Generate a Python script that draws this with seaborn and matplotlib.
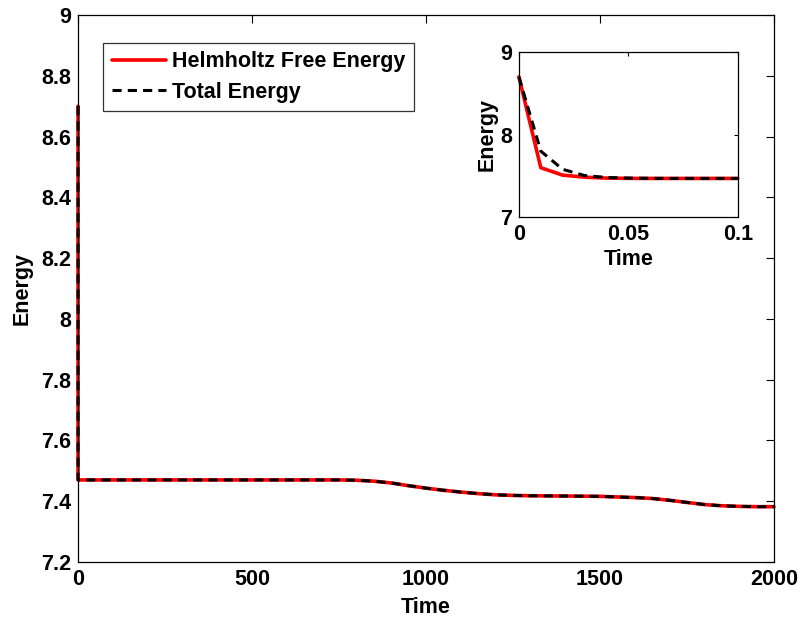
import matplotlib
matplotlib.use("Agg")
import matplotlib.pyplot as plt
import seaborn as sns
import pandas as pd
from matplotlib.ticker import FuncFormatter

# ---- data ----
t_early = [0, 0.01, 0.02, 0.03, 0.04, 0.05, 0.06, 0.07, 0.08, 0.09, 0.1]
helm_early = [8.70, 7.60, 7.51, 7.485, 7.474, 7.471, 7.470, 7.470, 7.470, 7.470, 7.470]
total_early = [8.70, 7.80, 7.58, 7.505, 7.482, 7.474, 7.471, 7.470, 7.470, 7.470, 7.470]

t_long = [100, 200, 300, 400, 500, 600, 700, 750, 800, 850, 900, 950, 1000, 1050,
          1100, 1150, 1200, 1250, 1300, 1400, 1500, 1550, 1600, 1650, 1700, 1750,
          1800, 1850, 1900, 1950, 2000]
energy_long = [7.470, 7.470, 7.470, 7.470, 7.470, 7.470, 7.470, 7.470, 7.469, 7.466,
               7.460, 7.451, 7.443, 7.436, 7.430, 7.425, 7.421, 7.419, 7.418, 7.417,
               7.416, 7.414, 7.412, 7.409, 7.403, 7.396, 7.389, 7.385, 7.383, 7.382, 7.382]

main_xticks = [0, 500, 1000, 1500, 2000]
main_yticks = [7.2, 7.4, 7.6, 7.8, 8.0, 8.2, 8.4, 8.6, 8.8, 9.0]
inset_xticks = [0, 0.05, 0.1]
inset_yticks = [7, 8, 9]

series_names = ["Helmholtz Free Energy", "Total Energy"]

# ---- style ----
sns.set_style("white")
plt.rcParams['font.family'] = ['Liberation Sans', 'DejaVu Sans']
plt.rcParams['font.weight'] = 'bold'
plt.rcParams['xtick.direction'] = 'in'
plt.rcParams['ytick.direction'] = 'in'
plt.rcParams['text.color'] = 'black'
plt.rcParams['axes.labelcolor'] = 'black'
plt.rcParams['xtick.color'] = 'black'
plt.rcParams['ytick.color'] = 'black'

FS = 15.5

df_main = pd.DataFrame({
    "Time": t_early + t_long + t_early + t_long,
    "Energy": helm_early + energy_long + total_early + energy_long,
    "series": [series_names[0]] * (len(t_early) + len(t_long)) +
              [series_names[1]] * (len(t_early) + len(t_long)),
})
df_inset = pd.DataFrame({
    "Time": t_early + t_early,
    "Energy": helm_early + total_early,
    "series": [series_names[0]] * len(t_early) + [series_names[1]] * len(t_early),
})

palette = {series_names[0]: "#ff0000", series_names[1]: "#000000"}
styles = {series_names[0]: "-", series_names[1]: (0, (3, 2))}
sizes = {series_names[0]: 2.6, series_names[1]: 2.2}

fig = plt.figure(figsize=(8.02, 6.19), dpi=100)
ax = fig.add_axes([0.0973, 0.0921, 0.9651 - 0.0973, 0.9758 - 0.0921])

def draw(axis, df):
    for name in series_names:
        sub = df[df["series"] == name]
        sns.lineplot(data=sub, x="Time", y="Energy", ax=axis, color=palette[name],
                     linewidth=sizes[name], label=name, sort=False,
                     linestyle=styles[name], clip_on=False)

def style_axis(axis, ticklen):
    axis.tick_params(axis="both", labelsize=FS, length=ticklen, width=0.8,
                     top=True, right=True, pad=5, colors="black")
    for lab in axis.get_xticklabels() + axis.get_yticklabels():
        lab.set_fontweight("bold")
    for s in axis.spines.values():
        s.set_color("black")
        s.set_linewidth(0.9)

draw(ax, df_main)
ax.set_xlim(0, 2000)
ax.set_ylim(7.2, 9.0)
ax.set_xticks(main_xticks)
ax.set_yticks(main_yticks)
ax.yaxis.set_major_formatter(FuncFormatter(lambda v, p: f"{v:g}"))
ax.set_xlabel("Time", fontsize=FS, fontweight="bold", labelpad=5)
ax.set_ylabel("Energy", fontsize=FS, fontweight="bold", labelpad=6)
style_axis(ax, 6)
leg = ax.legend(loc="upper left", bbox_to_anchor=(0.036, 0.949), fontsize=FS,
                frameon=True, fancybox=False, edgecolor="black", handlelength=2.5,
                borderpad=0.4, labelspacing=0.42, handletextpad=0.3,
                borderaxespad=0)
leg.get_frame().set_linewidth(0.9)
for t in leg.get_texts():
    t.set_fontweight("bold")
    t.set_color("black")

# inset
axi = fig.add_axes([0.647, 0.649, 0.920 - 0.647, 0.916 - 0.649])
draw(axi, df_inset)
axi.set_xlim(0, 0.1)
axi.set_ylim(7, 9)
axi.set_xticks(inset_xticks)
axi.set_yticks(inset_yticks)
axi.xaxis.set_major_formatter(FuncFormatter(lambda v, p: f"{v:g}"))
axi.yaxis.set_major_formatter(FuncFormatter(lambda v, p: f"{v:g}"))
axi.set_xlabel("Time", fontsize=FS, fontweight="bold", labelpad=3)
axi.set_ylabel("Energy", fontsize=FS, fontweight="bold", labelpad=2)
style_axis(axi, 3)
if axi.get_legend() is not None:
    axi.get_legend().remove()

fig.savefig("out.png", dpi=100)
